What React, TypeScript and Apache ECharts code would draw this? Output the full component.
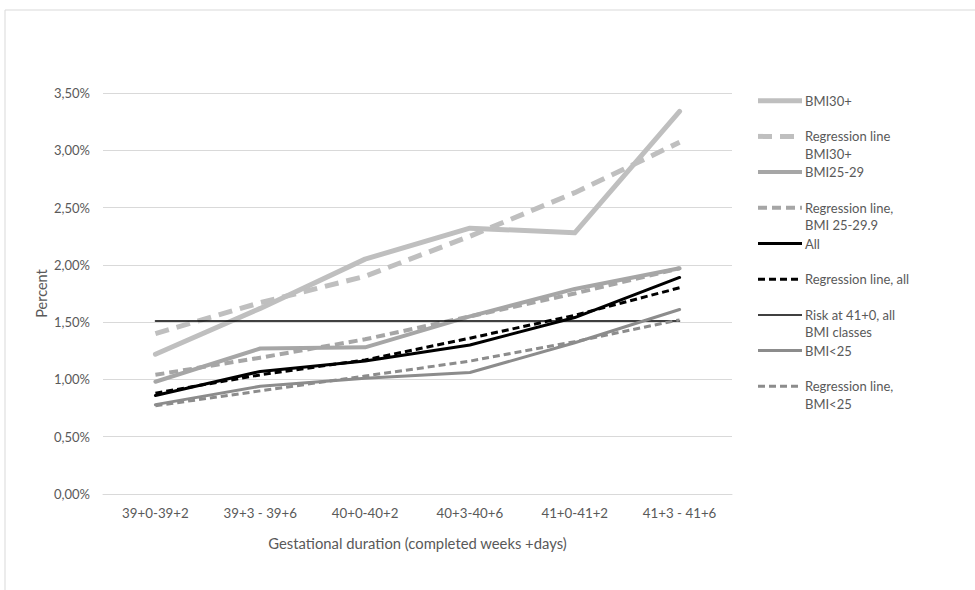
import React, { useEffect, useRef } from "react";
import * as echarts from "echarts";

// Gestational duration classes
const categories = ["39+0-39+2", "39+3 - 39+6", "40+0-40+2", "40+3-40+6", "41+0-41+2", "41+3 - 41+6"];

// Percent values per class
const bmi30 = [1.22, 1.62, 2.05, 2.32, 2.28, 3.34];
const regBmi30 = [1.4, 1.67, 1.9, 2.25, 2.63, 3.07];
const bmi25to29 = [0.98, 1.27, 1.28, 1.55, 1.79, 1.97];
const regBmi25to29 = [1.04, 1.19, 1.35, 1.55, 1.75, 1.97];
const all = [0.86, 1.07, 1.16, 1.3, 1.54, 1.89];
const regAll = [0.88, 1.04, 1.17, 1.36, 1.56, 1.8];
const riskAt41 = [1.51, 1.51, 1.51, 1.51, 1.51, 1.51];
const bmiUnder25 = [0.78, 0.94, 1.01, 1.06, 1.32, 1.61];
const regBmiUnder25 = [0.77, 0.9, 1.03, 1.16, 1.33, 1.52];

const seriesNames = [
  "BMI30+",
  "Regression line BMI30+",
  "BMI25-29",
  "Regression line, BMI 25-29.9",
  "All",
  "Regression line, all",
  "Risk at 41+0, all BMI classes",
  "BMI<25",
  "Regression line, BMI<25",
];
const legendLabels = [
  "BMI30+",
  "Regression line\nBMI30+",
  "BMI25-29",
  "Regression line,\nBMI 25-29.9",
  "All",
  "Regression line, all",
  "Risk at 41+0, all\nBMI classes",
  "BMI<25",
  "Regression line,\nBMI<25",
];
const seriesData = [bmi30, regBmi30, bmi25to29, regBmi25to29, all, regAll, riskAt41, bmiUnder25, regBmiUnder25];

const yTicks = { min: 0, max: 3.5, interval: 0.5 };

const styles: { color: string; width: number; dash: number[] | null }[] = [
  { color: "#bfbfbf", width: 5, dash: null },
  { color: "#bfbfbf", width: 5, dash: [14, 8] },
  { color: "#a6a6a6", width: 4, dash: null },
  { color: "#a6a6a6", width: 4, dash: [9, 5] },
  { color: "#000000", width: 3, dash: null },
  { color: "#000000", width: 3, dash: [7, 4] },
  { color: "#000000", width: 1.5, dash: null },
  { color: "#8c8c8c", width: 3, dash: null },
  { color: "#8c8c8c", width: 3, dash: [7, 4] },
];

const FONT = "Lato, 'Liberation Sans', sans-serif";
const TEXT = "#595959";

export default function App() {
  const ref = useRef<HTMLDivElement>(null);

  useEffect(() => {
    if (!ref.current) return;
    const chart = echarts.init(ref.current, null, { renderer: "svg" });

    const legendTop = 100.7;
    const legendStep = 35.7;
    const legendGraphics: any[] = [];
    legendLabels.forEach((label, i) => {
      const y = legendTop + i * legendStep;
      const s = styles[i];
      legendGraphics.push({
        type: "line",
        shape: { x1: 758, y1: y, x2: 802, y2: y },
        style: { stroke: s.color, lineWidth: s.width, lineDash: s.dash || undefined },
        silent: true,
      });
      legendGraphics.push({
        type: "text",
        x: 805,
        y: y - 8.75,
        style: {
          text: label,
          fill: TEXT,
          font: `13px ${FONT}`,
          lineHeight: 17.5,
          verticalAlign: "top",
          align: "left",
        },
        silent: true,
      });
    });

    chart.setOption({
      animation: false,
      backgroundColor: "#ffffff",
      grid: { left: 103, right: 243, top: 93, bottom: 96, containLabel: false },
      xAxis: {
        type: "category",
        data: categories,
        boundaryGap: true,
        axisLine: { show: true, lineStyle: { color: "#d9d9d9", width: 1 } },
        axisTick: { show: false },
        axisLabel: { color: TEXT, fontFamily: FONT, fontSize: 13.3, margin: 12 },
        name: "Gestational duration (completed weeks +days)",
        nameLocation: "middle",
        nameGap: 41,
        nameMoveOverlap: false,
        nameTextStyle: { color: TEXT, fontFamily: FONT, fontSize: 14.8 },
      },
      yAxis: {
        type: "value",
        min: yTicks.min,
        max: yTicks.max,
        interval: yTicks.interval,
        axisLine: { show: false },
        axisTick: { show: false },
        splitLine: { lineStyle: { color: "#d9d9d9", width: 1 } },
        axisLabel: {
          color: TEXT,
          fontFamily: FONT,
          fontSize: 13,
          margin: 13,
          formatter: (v: number) => v.toFixed(2).replace(".", ",") + "%",
        },
        name: "Percent",
        nameLocation: "middle",
        nameGap: 54,
        nameMoveOverlap: false,
        nameTextStyle: { color: TEXT, fontFamily: FONT, fontSize: 14.5 },
      },
      series: seriesNames.map((name, i) => ({
        name,
        type: "line",
        data: seriesData[i],
        symbol: "none",
        z: 2 + i,
        lineStyle: {
          color: styles[i].color,
          width: styles[i].width,
          type: styles[i].dash || "solid",
          join: "round",
          cap: styles[i].dash ? "butt" : "round",
        },
        itemStyle: { color: styles[i].color },
      })),
      graphic: [
        {
          type: "rect",
          shape: { x: 5, y: 10, width: 1000, height: 600 },
          style: { fill: "none", stroke: "#d9d9d9", lineWidth: 1 },
          silent: true,
          z: -10,
        },
        ...legendGraphics,
      ],
    });

    return () => chart.dispose();
  }, []);

  return (
    <div
      ref={ref}
      style={{ position: "fixed", left: 0, top: 0, width: 975, height: 590, background: "#fff" }}
    />
  );
}
